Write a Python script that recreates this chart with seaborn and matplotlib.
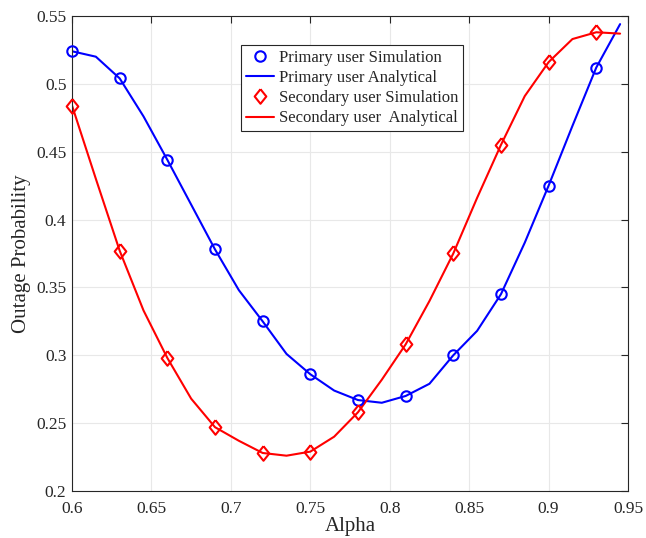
import numpy as np
import pandas as pd
import matplotlib
matplotlib.use("Agg")
import matplotlib.pyplot as plt
import seaborn as sns

# simulation points (every 0.03)
alpha_sim = [0.60, 0.63, 0.66, 0.69, 0.72, 0.75, 0.78, 0.81, 0.84, 0.87, 0.90, 0.93]
primary_sim = [0.524, 0.504, 0.444, 0.378, 0.325, 0.286, 0.267, 0.270, 0.300, 0.345, 0.425, 0.512]
secondary_sim = [0.484, 0.377, 0.298, 0.247, 0.228, 0.229, 0.258, 0.308, 0.375, 0.455, 0.516, 0.538]

# analytical curves (every 0.015)
alpha_ana = [0.600, 0.615, 0.630, 0.645, 0.660, 0.675, 0.690, 0.705, 0.720, 0.735, 0.750, 0.765,
             0.780, 0.795, 0.810, 0.825, 0.840, 0.855, 0.870, 0.885, 0.900, 0.915, 0.930, 0.945]
primary_ana = [0.524, 0.520, 0.504, 0.476, 0.444, 0.411, 0.378, 0.348, 0.325, 0.301, 0.286, 0.274,
               0.267, 0.265, 0.270, 0.279, 0.300, 0.318, 0.345, 0.383, 0.425, 0.469, 0.512, 0.544]
secondary_ana = [0.484, 0.430, 0.377, 0.333, 0.298, 0.268, 0.247, 0.237, 0.228, 0.226, 0.229, 0.240,
                 0.258, 0.282, 0.308, 0.340, 0.375, 0.416, 0.455, 0.491, 0.516, 0.533, 0.538, 0.537]

sns.set_style("white")
plt.rcParams['font.family'] = ['Liberation Serif', 'DejaVu Serif']

fig = plt.figure(figsize=(6.46, 5.38), dpi=100)
ax = fig.add_axes([0.1115, 0.0874, 0.8607, 0.8829])

sim = pd.DataFrame({"alpha": alpha_sim, "primary": primary_sim, "secondary": secondary_sim})
ana = pd.DataFrame({"alpha": alpha_ana, "primary": primary_ana, "secondary": secondary_ana})

blue = "#0000ff"
red = "#ff0000"
# MATLAB-style diamond (a bit taller than wide)
diamond = [(0, 1), (0.8, 0), (0, -1), (-0.8, 0), (0, 1)]

ax.plot(sim["alpha"], sim["primary"], linestyle="none", marker="o", markersize=7.5,
        markerfacecolor="none", markeredgecolor=blue, markeredgewidth=1.5,
        label="Primary user Simulation", clip_on=False, zorder=4)
sns.lineplot(data=ana, x="alpha", y="primary", ax=ax, color=blue, linewidth=1.5,
             label="Primary user Analytical")
ax.plot(sim["alpha"], sim["secondary"], linestyle="none", marker=diamond, markersize=10.5,
        markerfacecolor="none", markeredgecolor=red, markeredgewidth=1.5,
        label="Secondary user Simulation", clip_on=False, zorder=4)
sns.lineplot(data=ana, x="alpha", y="secondary", ax=ax, color=red, linewidth=1.5,
             label="Secondary user  Analytical")

ax.set_xlim(0.6, 0.95)
ax.set_ylim(0.2, 0.55)
ax.set_xticks(np.arange(0.6, 0.951, 0.05))
ax.set_yticks(np.arange(0.2, 0.551, 0.05))
ax.set_xticklabels(["0.6", "0.65", "0.7", "0.75", "0.8", "0.85", "0.9", "0.95"])
ax.set_yticklabels(["0.2", "0.25", "0.3", "0.35", "0.4", "0.45", "0.5", "0.55"])
ax.grid(True, color="#e8e8e8", linewidth=0.8)
ax.tick_params(direction="in", top=True, right=True, labelsize=12.5, length=5, color="#262626",
               labelcolor="#262626")
ax.tick_params(axis="x", pad=7)
ax.tick_params(axis="y", pad=4)
for s in ax.spines.values():
    s.set_color("#262626")
    s.set_linewidth(0.8)

ax.set_xlabel("Alpha", fontsize=15, labelpad=0.5, color="#262626")
ax.set_ylabel("Outage Probability", fontsize=15, labelpad=4, color="#262626")

leg = ax.legend(loc="upper left", bbox_to_anchor=(0.304, 0.939), borderaxespad=0, fontsize=12,
                frameon=True, fancybox=False, edgecolor="#262626", framealpha=1,
                handlelength=1.7, borderpad=0.3, labelspacing=0.25, handletextpad=0.25)
leg.get_frame().set_linewidth(0.8)

fig.savefig("out.png", dpi=100)
